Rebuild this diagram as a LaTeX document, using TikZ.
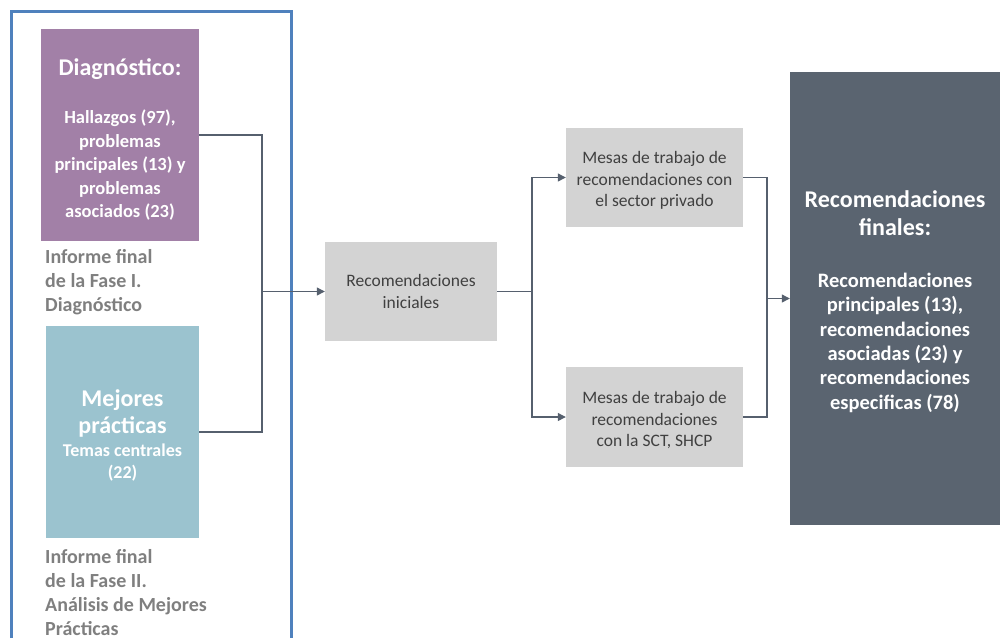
\documentclass[tikz,border=0pt]{standalone}
\usepackage{fontspec}
\setmainfont{Carlito}
\usetikzlibrary{arrows.meta}
\definecolor{framblue}{HTML}{4F81BD}
\definecolor{diagpurple}{HTML}{A280A7}
\definecolor{mejteal}{HTML}{9BC3CF}
\definecolor{stepgray}{HTML}{D3D3D3}
\definecolor{finalslate}{HTML}{5A6470}
\definecolor{connslate}{HTML}{56606E}
\definecolor{notegray}{HTML}{7F7F7F}
\definecolor{boxtext}{HTML}{404040}
\newcommand\ttlfont{\fontsize{24}{29}\selectfont}
\newcommand\padtop[1]{\rule{0pt}{#1}}
\begin{document}
\begin{tikzpicture}[x=1pt,y=-1pt,
  colbox/.style={inner sep=0pt,align=center,text=white},
  stepbox/.style={fill=stepgray,minimum width=172pt,minimum height=99pt,inner sep=0pt,
    align=center,text=boxtext,font=\fontsize{17.5}{21.5}\selectfont},
  note/.style={anchor=north west,inner sep=0pt,align=left,text=notegray,
    font=\fontsize{20}{24}\selectfont\bfseries},
  conn/.style={draw=connslate,line width=1.2pt},
  arr/.style={conn,-{Triangle[length=8pt,width=8pt]}}]
\useasboundingbox (0,0) rectangle (1000,638);
\draw[framblue,line width=3pt] (11,638) -- (11,11) -- (291,11) -- (291,638);
% left column
\node[colbox,fill=diagpurple,minimum width=158pt,minimum height=212pt,
  font=\fontsize{18.5}{23.5}\selectfont\bfseries] (diag) at (120,135)
  {\padtop{26pt}\ttlfont Diagnóstico:\\[25pt]
   Hallazgos (97),\\ problemas\\ principales (13) y\\ problemas\\ asociados (23)};
\node[note] (inf1) at (45,249) {Informe final\\de la Fase I.\\Diagnóstico};
\node[colbox,fill=mejteal,minimum width=153pt,minimum height=212pt,
  font=\fontsize{18}{22}\selectfont\bfseries] (mej) at (122.5,432)
  {\padtop{24pt}\ttlfont Mejores\\[5pt] \ttlfont prácticas\\[1pt] Temas centrales\\ (22)};
\node[note] (inf2) at (45,549) {Informe final\\de la Fase II.\\Análisis de Mejores\\Prácticas};
% steps
\node[stepbox] (ini) at (411,291.5) {Recomendaciones\\ iniciales};
\node[stepbox,minimum width=177pt] (mesa1) at (654.5,177.5)
  {\padtop{18.5pt}Mesas de trabajo de\\ recomendaciones con\\ el sector privado};
\node[stepbox,minimum width=177pt,minimum height=100pt] (mesa2) at (654.5,417)
  {\padtop{18.5pt}Mesas de trabajo de\\ recomendaciones\\ con la SCT, SHCP};
\node[colbox,fill=finalslate,minimum width=210pt,minimum height=453pt,
  font=\fontsize{20.5}{24.4}\selectfont\bfseries] (final) at (895,298.5)
  {\padtop{23pt}\ttlfont Recomendaciones\\[4pt] \ttlfont finales:\\[27pt]
   Recomendaciones\\ principales (13),\\ recomendaciones\\
   asociadas (23) y\\ recomendaciones\\ especificas (78)};
% connectors
\coordinate (j1) at (262,291.5);
\coordinate (j2) at (532,291.5);
\coordinate (j3) at (767,298.5);
\draw[conn] (diag.east) -| (j1) |- (mej.east);
\draw[arr] (j1) -- (ini.west);
\draw[conn] (ini.east) -- (j2);
\draw[arr] (j2) |- (mesa1.west);
\draw[arr] (j2) |- (mesa2.west);
\draw[conn] (mesa1.east) -| (j3) |- (mesa2.east);
\draw[arr] (j3) -- (final.west);
\end{tikzpicture}
\end{document}
